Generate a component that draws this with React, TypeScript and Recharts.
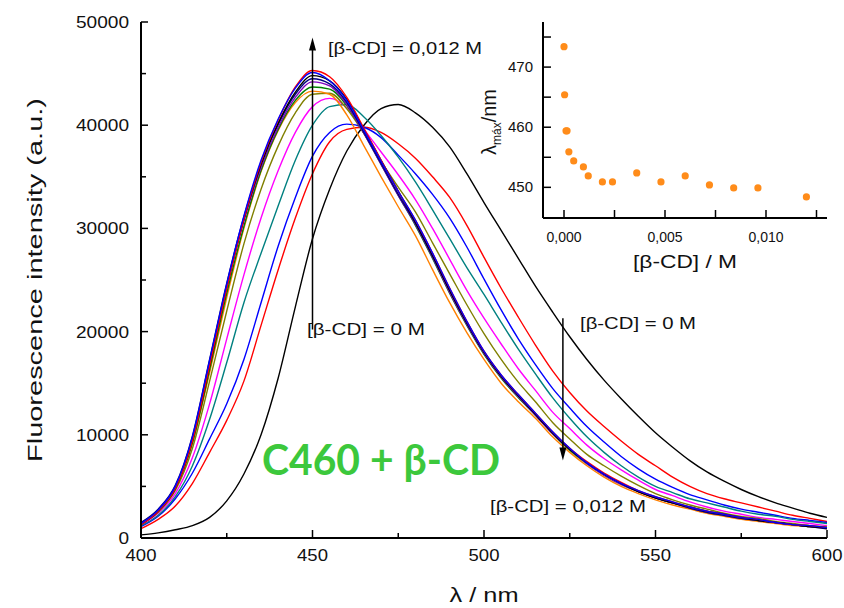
import React from 'react';
import {
  LineChart, Line, XAxis, YAxis, ReferenceLine,
  ScatterChart, Scatter, CartesianGrid,
} from 'recharts';

const FONT = '"Liberation Sans", Arial, sans-serif';

// emission wavelengths (nm)
const wavelengths = [
  400, 405, 410, 415, 420, 425, 430, 435, 440, 445, 450, 455, 460, 465, 470, 475, 480,
  485, 490, 495, 500, 505, 510, 515, 520, 525, 530, 535, 540, 545, 550, 555, 560, 565,
  570, 575, 580, 585, 590, 595, 600,
];

// fluorescence intensity (a.u.) for increasing [β-CD]
const specBlack = [300, 500, 800, 1200, 2000, 3600, 6200, 10000, 15500, 22400, 29000, 33800, 37500, 40000, 41600, 42000, 41200, 39800, 37900, 35300, 32500, 29800, 27100, 24400, 21900, 19500, 17300, 15300, 13500, 11800, 10200, 8800, 7500, 6400, 5500, 4700, 4000, 3400, 2900, 2400, 2000];
const specRed = [900, 1800, 3100, 5300, 8300, 11400, 15200, 20600, 26000, 31000, 35300, 38400, 39600, 39800, 39300, 38200, 36800, 35000, 33000, 30300, 27200, 24200, 21400, 18700, 16200, 14100, 12300, 10800, 9400, 8100, 7000, 5900, 5000, 4300, 3800, 3400, 3000, 2600, 2200, 1900, 1600];
const specBlue = [1100, 2100, 3800, 6300, 9600, 13000, 17300, 22800, 28300, 33000, 37000, 39300, 40100, 39800, 38800, 37100, 35300, 33300, 31000, 28200, 25100, 22100, 19300, 16800, 14500, 12600, 10800, 9300, 7900, 6700, 5700, 4900, 4200, 3700, 3200, 2800, 2500, 2200, 1900, 1700, 1500];
const specTeal = [1200, 2200, 4000, 7000, 11500, 17000, 22800, 27600, 32200, 36600, 40000, 41800, 42000, 40800, 39000, 36900, 34500, 31800, 29000, 26200, 23600, 20900, 18300, 15900, 13600, 11600, 9800, 8300, 7000, 5900, 5000, 4400, 3800, 3400, 3000, 2600, 2300, 2100, 1800, 1600, 1400];
const specMagenta = [1300, 2400, 4300, 7800, 13000, 19300, 25500, 31000, 35600, 39300, 41800, 42600, 41700, 39600, 37400, 35200, 32800, 30000, 27000, 24000, 21300, 18800, 16400, 14300, 12200, 10600, 9000, 7700, 6600, 5600, 4700, 4100, 3500, 3000, 2600, 2300, 2000, 1800, 1600, 1400, 1200];
const specOlive = [1400, 2500, 4600, 8700, 15200, 22000, 28500, 33800, 38000, 41200, 43000, 43100, 41600, 39200, 36500, 34000, 31600, 28600, 25600, 22600, 19800, 17300, 15100, 13200, 11200, 9600, 8100, 7000, 6000, 5100, 4300, 3700, 3200, 2800, 2400, 2100, 1900, 1600, 1400, 1200, 1100];
const specOrange = [1500, 2700, 4900, 9300, 16000, 23300, 30000, 35500, 39500, 42200, 43300, 43000, 41000, 38000, 35000, 32100, 29300, 26000, 22800, 19900, 17300, 15000, 13200, 11600, 9800, 8300, 7000, 5900, 5000, 4300, 3700, 3200, 2800, 2400, 2100, 1800, 1600, 1400, 1200, 1100, 900];
const specGreen = [1400, 2600, 4800, 9200, 16300, 23700, 30200, 35600, 39600, 42400, 43700, 43500, 41900, 39200, 36200, 33200, 30300, 27100, 23700, 20600, 17800, 15500, 13600, 11900, 10100, 8500, 7200, 6100, 5200, 4500, 3900, 3400, 2900, 2500, 2200, 1900, 1700, 1500, 1300, 1100, 1000];
const specPurple = [1400, 2600, 4900, 9600, 16900, 24300, 30700, 35900, 39800, 42700, 44200, 43800, 42000, 39200, 36200, 33200, 30400, 27200, 23800, 20700, 17900, 15600, 13700, 11900, 10100, 8600, 7200, 6100, 5200, 4500, 3900, 3400, 2900, 2500, 2200, 1900, 1700, 1500, 1300, 1100, 1000];
const specNavy = [1500, 2800, 5100, 9900, 17300, 24700, 31100, 36300, 40100, 43000, 44500, 44000, 42200, 39300, 36300, 33300, 30500, 27300, 24000, 20800, 18000, 15700, 13800, 12000, 10200, 8600, 7300, 6200, 5300, 4500, 3900, 3400, 2900, 2500, 2200, 1900, 1700, 1500, 1300, 1100, 900];
const specBlack2 = [1300, 2600, 4800, 9500, 16700, 24300, 30900, 36200, 40200, 43200, 44800, 44300, 42500, 39600, 36600, 33600, 30600, 27400, 24000, 20900, 18000, 15700, 13800, 12000, 10200, 8600, 7300, 6200, 5300, 4500, 3900, 3400, 3000, 2600, 2300, 2000, 1700, 1500, 1300, 1100, 1000];
const specRed2 = [1300, 2600, 4800, 9400, 16700, 24200, 30900, 36400, 40500, 43700, 45300, 44700, 42700, 39700, 36600, 33600, 30800, 27600, 24200, 21000, 18100, 15800, 13900, 12100, 10300, 8700, 7400, 6300, 5400, 4600, 4000, 3500, 3000, 2600, 2300, 2000, 1800, 1500, 1300, 1200, 1000];
const specBlue2 = [1400, 2700, 5000, 9800, 17200, 24600, 31200, 36600, 40600, 43600, 45100, 44300, 42400, 39500, 36500, 33600, 30800, 27600, 24200, 21000, 18100, 15800, 13900, 12100, 10300, 8700, 7300, 6200, 5300, 4600, 4000, 3500, 3000, 2600, 2300, 2000, 1800, 1500, 1300, 1200, 1000];

const seriesList = [
  { key: 'c0', color: '#000000', values: specBlack },
  { key: 'c1', color: '#ff0000', values: specRed },
  { key: 'c2', color: '#0000ff', values: specBlue },
  { key: 'c3', color: '#008080', values: specTeal },
  { key: 'c4', color: '#ff00ff', values: specMagenta },
  { key: 'c5', color: '#808000', values: specOlive },
  { key: 'c6', color: '#ff8000', values: specOrange },
  { key: 'c7', color: '#008000', values: specGreen },
  { key: 'c8', color: '#8000c0', values: specPurple },
  { key: 'c9', color: '#000080', values: specNavy },
  { key: 'c10', color: '#000000', values: specBlack2 },
  { key: 'c11', color: '#ff0000', values: specRed2 },
  { key: 'c12', color: '#0000ff', values: specBlue2 },
];

const xTicks = [400, 425, 450, 475, 500, 525, 550, 575, 600];
const yTicks = [0, 5000, 10000, 15000, 20000, 25000, 30000, 35000, 40000, 45000, 50000];

// inset: emission maximum vs [β-CD]
const insetConc = [0, 0.00003, 0.0001, 0.00015, 0.00024, 0.00048, 0.00096, 0.0012, 0.0019, 0.0024, 0.0036, 0.0048, 0.006, 0.0072, 0.0084, 0.0096, 0.012];
const insetLambda = [473.4, 465.4, 459.4, 459.4, 455.9, 454.4, 453.4, 451.9, 450.9, 450.9, 452.4, 450.9, 451.9, 450.4, 449.9, 449.9, 448.4];
const insetXTicks = [0, 0.0025, 0.005, 0.0075, 0.01, 0.0125];
const insetYTicks = [450, 455, 460, 465, 470, 475];

const chartData = wavelengths.map((wl, i) => {
  const row: Record<string, number> = { wl };
  seriesList.forEach(s => { row[s.key] = s.values[i]; });
  return row;
});
const insetData = insetConc.map((c, i) => ({ c, l: insetLambda[i] }));

const PLOT_LEFT = 141;
const PLOT_TOP = 22;
const PLOT_BOTTOM = 538;

function MainXTick({ x, payload }: any) {
  const major = payload.value % 50 === 0;
  const label = String(payload.value);
  return (
    <g>
      <line x1={x} x2={x} y1={PLOT_BOTTOM} y2={PLOT_BOTTOM - (major ? 8 : 5)} stroke="#000" strokeWidth={1.5} />
      {major && (
        <text x={x} y={PLOT_BOTTOM + 23} textAnchor="middle" fontSize={17} fontFamily={FONT} fill="#111"
          textLength={label.length * 10.3} lengthAdjust="spacingAndGlyphs">{label}</text>
      )}
    </g>
  );
}

function TopXTick({ x }: any) {
  return <line x1={x} x2={x} y1={PLOT_TOP} y2={PLOT_TOP + 6} stroke="#000" strokeWidth={1.5} />;
}

function MainYTick({ y, payload }: any) {
  const major = payload.value % 10000 === 0;
  const label = String(payload.value);
  return (
    <g>
      <line x1={PLOT_LEFT} x2={PLOT_LEFT + (major ? 7 : 5)} y1={y} y2={y} stroke="#000" strokeWidth={1.5} />
      {major && (
        <text x={PLOT_LEFT - 12} y={y + 6} textAnchor="end" fontSize={17} fontFamily={FONT} fill="#111"
          textLength={label.length * 10.6} lengthAdjust="spacingAndGlyphs">{label}</text>
      )}
    </g>
  );
}

// inset chart coordinates (chart placed at left 470)
const IN_LEFT = 73;
const IN_RIGHT = 357;
const IN_BOTTOM = 218;

function InsetXTick({ x, payload }: any) {
  const major = Math.round(payload.value * 10000) % 50 === 0;
  return (
    <g>
      <line x1={x} x2={x} y1={IN_BOTTOM} y2={IN_BOTTOM - 8} stroke="#000" strokeWidth={1.5} />
      {major && (
        <text x={x} y={IN_BOTTOM + 24} textAnchor="middle" fontSize={14} fontFamily={FONT} fill="#111">
          {payload.value.toFixed(3).replace('.', ',')}
        </text>
      )}
    </g>
  );
}

function InsetYTick({ y, payload }: any) {
  const major = payload.value % 10 === 0;
  return (
    <g>
      <line x1={IN_LEFT} x2={IN_LEFT + 8} y1={y} y2={y} stroke="#000" strokeWidth={1.5} />
      {major && (
        <text x={IN_LEFT - 10} y={y + 5} textAnchor="end" fontSize={15} fontFamily={FONT} fill="#111">{payload.value}</text>
      )}
    </g>
  );
}

function InsetRightTick({ y }: any) {
  return <line x1={IN_RIGHT} x2={IN_RIGHT - 6} y1={y} y2={y} stroke="#000" strokeWidth={1.2} />;
}

function Arrow(props: any) {
  const { x1, y1, x2, y2 } = props;
  const dir = y2 < y1 ? -1 : 1;
  return (
    <g>
      <line x1={x1} y1={y1} x2={x2} y2={y2 - dir * 6} stroke="#000" strokeWidth={1.5} />
      <path d={`M${x2},${y2} L${x2 - 3.5},${y2 - dir * 13} L${x2 + 3.5},${y2 - dir * 13} Z`} fill="#000" />
    </g>
  );
}

const txt = { fontFamily: FONT, fill: '#111' } as const;

export default function App() {
  return (
    <div style={{ position: 'absolute', left: 0, top: 0, width: 844, height: 608, background: '#fff', fontFamily: FONT }}>
      <div style={{ position: 'absolute', left: 0, top: 0 }}>
        <LineChart width={844} height={608} data={chartData} margin={{ top: 22, right: 17, bottom: 0, left: 0 }}>
          <XAxis dataKey="wl" type="number" domain={[400, 600]} ticks={xTicks} interval={0} allowDataOverflow
            height={70} tickLine={false} tick={MainXTick} axisLine={{ stroke: '#000', strokeWidth: 2 }} />
          <XAxis xAxisId="top" orientation="top" type="number" domain={[400, 600]} ticks={xTicks} interval={0}
            allowDataOverflow height={0} tickLine={false} tick={TopXTick} axisLine={{ stroke: '#000', strokeWidth: 2 }} />
          <YAxis type="number" domain={[0, 50000]} ticks={yTicks} interval={0} allowDataOverflow width={141}
            tickLine={false} tick={MainYTick} axisLine={{ stroke: '#000', strokeWidth: 2 }} />
          <YAxis yAxisId="right" orientation="right" type="number" domain={[0, 50000]} width={0}
            tick={false} tickLine={false} axisLine={{ stroke: '#000', strokeWidth: 2 }} />
          {seriesList.map(s => (
            <Line key={s.key} type="monotone" dataKey={s.key} stroke={s.color} strokeWidth={1.4}
              dot={false} activeDot={false} isAnimationActive={false} />
          ))}
          <ReferenceLine segment={[{ x: 450, y: 20200 }, { x: 450, y: 48500 }]} shape={Arrow} />
          <ReferenceLine segment={[{ x: 523, y: 21300 }, { x: 523, y: 7500 }]} shape={Arrow} />
        </LineChart>
      </div>

      <div style={{ position: 'absolute', left: 470, top: 0 }}>
        <ScatterChart width={374} height={300} margin={{ top: 22, right: 17, bottom: 0, left: 0 }}>
          <CartesianGrid fill="#fff" horizontal={false} vertical={false} />
          <XAxis dataKey="c" type="number" domain={[-0.00104, 0.01302]} ticks={insetXTicks} interval={0}
            allowDataOverflow height={82} tickLine={false} tick={InsetXTick} axisLine={{ stroke: '#000', strokeWidth: 2 }} />
          <XAxis xAxisId="top" orientation="top" type="number" domain={[-0.00104, 0.01302]} height={0}
            tick={false} tickLine={false} axisLine={{ stroke: '#000', strokeWidth: 2 }} />
          <YAxis dataKey="l" type="number" domain={[444.9, 477.5]} ticks={insetYTicks} interval={0}
            allowDataOverflow width={73} tickLine={false} tick={InsetYTick} axisLine={{ stroke: '#000', strokeWidth: 2 }} />
          <YAxis yAxisId="right" orientation="right" type="number" domain={[444.9, 477.5]} ticks={insetYTicks}
            interval={0} width={0} tickLine={false} tick={InsetRightTick} axisLine={{ stroke: '#000', strokeWidth: 2 }} />
          <Scatter data={insetData} fill="#ff8c1a" isAnimationActive={false}
            shape={(p: any) => <circle cx={p.cx} cy={p.cy} r={3.6} fill="#ff8c1a" />} />
        </ScatterChart>
      </div>

      <svg width={844} height={608} style={{ position: 'absolute', left: 0, top: 0, pointerEvents: 'none' }}>
        <text x={328} y={54} fontSize={17} {...txt} textLength={154} lengthAdjust="spacingAndGlyphs">[β-CD] = 0,012 M</text>
        <text x={307} y={335} fontSize={17} {...txt} textLength={118} lengthAdjust="spacingAndGlyphs">[β-CD] = 0 M</text>
        <text x={580} y={329} fontSize={17} {...txt} textLength={116} lengthAdjust="spacingAndGlyphs">[β-CD] = 0 M</text>
        <text x={490} y={512} fontSize={17} {...txt} textLength={156} lengthAdjust="spacingAndGlyphs">[β-CD] = 0,012 M</text>
        <text x={262} y={475} fontSize={42} fontWeight={700} fontFamily="Lato, 'Open Sans', sans-serif" fill="#3cc83c"
          textLength={238} lengthAdjust="spacingAndGlyphs">C460 + β-CD</text>
        <text transform="translate(42,280) rotate(-90)" textAnchor="middle" fontSize={21} {...txt}
          textLength={364} lengthAdjust="spacingAndGlyphs">Fluorescence intensity (a.u.)</text>
        <text x={484} y={602} textAnchor="middle" fontSize={21} {...txt} textLength={69} lengthAdjust="spacingAndGlyphs">λ / nm</text>
        <text x={685} y={268} textAnchor="middle" fontSize={19} {...txt} textLength={104} lengthAdjust="spacingAndGlyphs">[β-CD] / M</text>
        <text transform="translate(496,122) rotate(-90)" textAnchor="middle" fontSize={20} {...txt}>
          λ<tspan fontSize={12} dy={5}>máx</tspan><tspan dy={-5}>/nm</tspan>
        </text>
      </svg>
    </div>
  );
}
